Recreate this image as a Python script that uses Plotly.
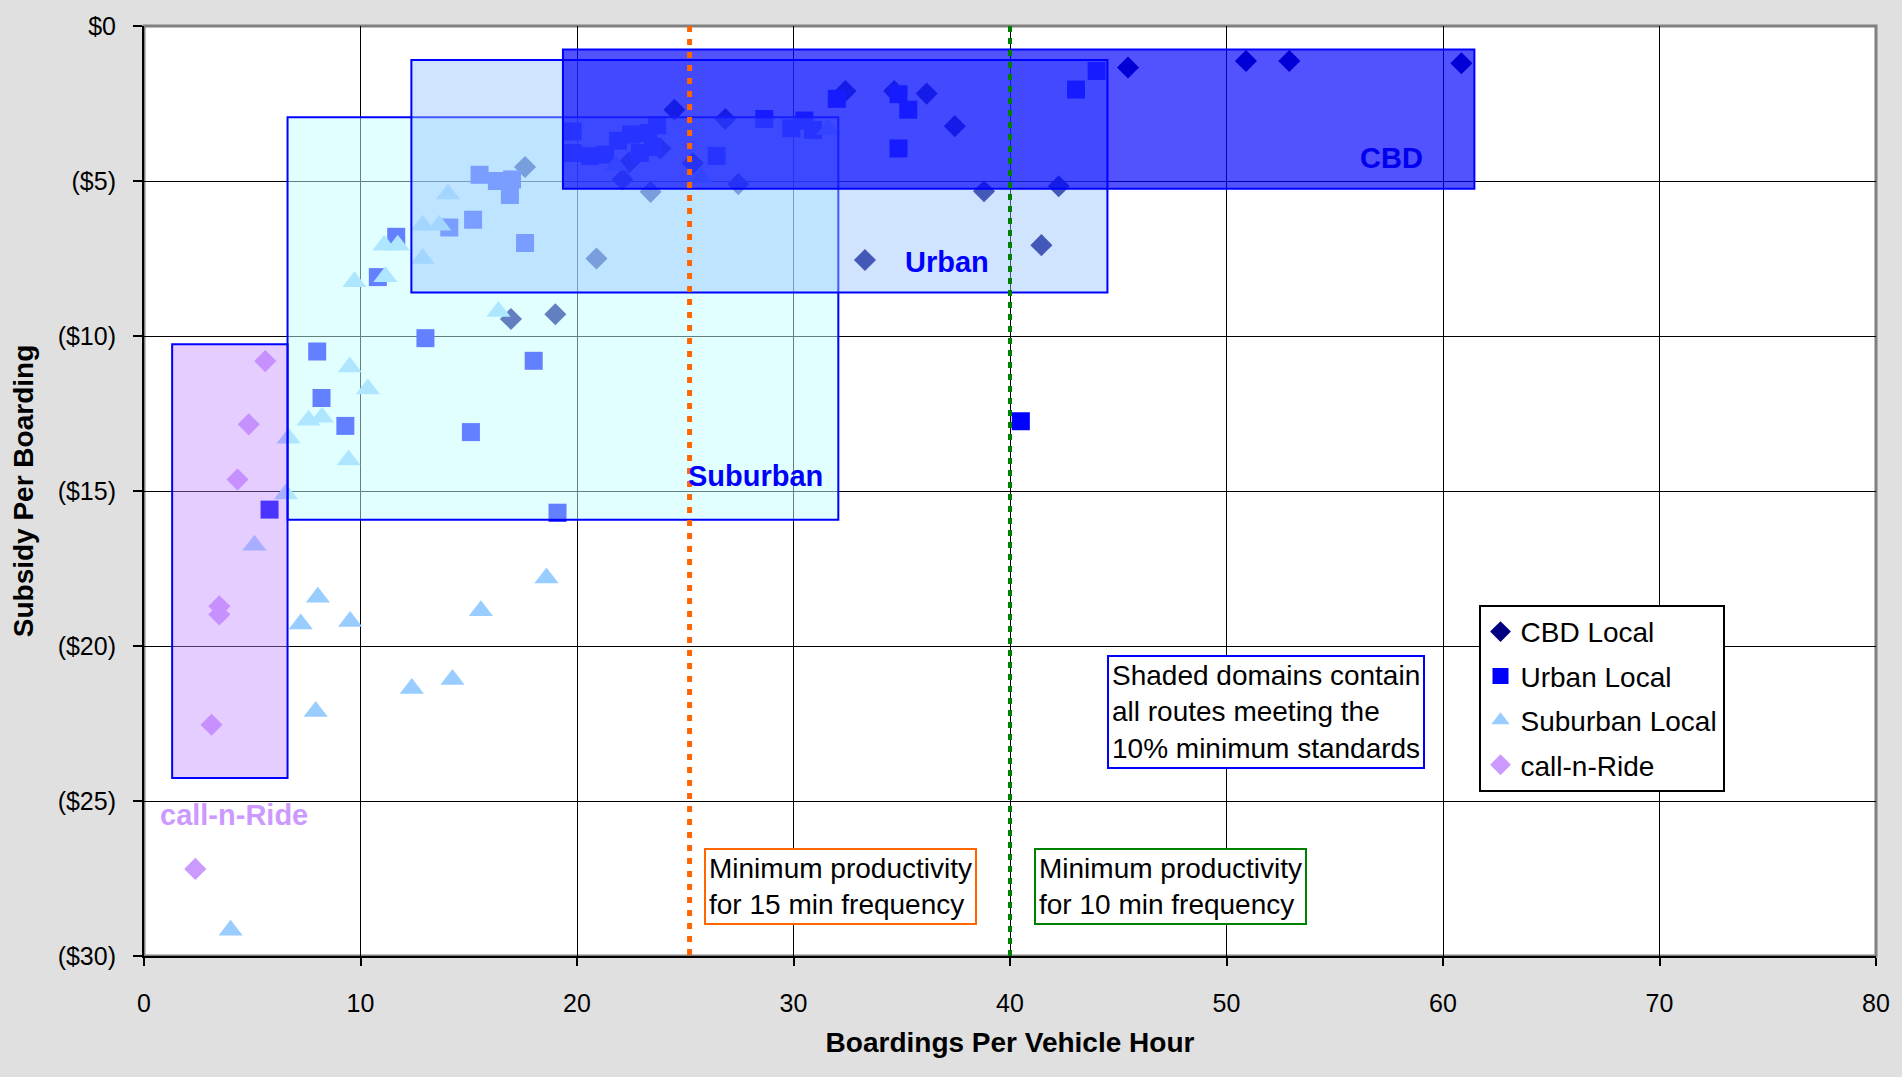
import plotly.graph_objects as go

# ---------------- data (subsidy per boarding in $, shown as negatives) ----------------
cbd_x = [17.6, 16.95, 19.0, 20.9, 22.1, 22.4, 23.4, 23.85, 24.5, 25.35, 26.85, 27.45,
         32.4, 33.3, 34.65, 36.15, 37.45, 38.8, 41.45, 42.25, 45.45, 50.9, 52.9, 60.85]
cbd_y = [4.55, 9.45, 9.3, 7.5, 4.95, 4.4, 5.35, 3.95, 2.7, 4.43, 3.0, 5.1,
         2.1, 7.55, 2.1, 2.18, 3.23, 5.33, 7.07, 5.17, 1.34, 1.13, 1.13, 1.2]

urban_x = [19.8, 19.8, 20.6, 21.3, 21.9, 22.5, 22.9, 23.3, 23.7, 23.5, 26.45, 28.65,
           29.9, 30.5, 30.9, 32.0, 34.85, 35.3, 34.85, 43.05, 44.0, 40.5,
           15.5, 16.3, 17.0, 16.9, 15.2, 14.1, 11.65, 17.6, 10.8, 13.0, 8.0,
           18.0, 8.2, 9.3, 15.1, 5.8, 19.1]
urban_y = [3.4, 4.1, 4.2, 4.15, 3.7, 3.5, 4.1, 3.45, 3.2, 3.9, 4.19, 3.0,
           3.3, 3.05, 3.35, 2.35, 2.2, 2.7, 3.95, 2.05, 1.45, 12.75,
           4.8, 5.0, 4.95, 5.45, 6.25, 6.5, 6.8, 7.0, 8.1, 10.07, 10.5,
           10.8, 12.0, 12.9, 13.1, 15.6, 15.7]

sub_x = [14.04, 12.87, 13.64, 11.1, 11.72, 12.87, 9.72, 11.15, 16.37, 21.8, 25.7, 31.6,
         9.5, 10.34, 7.6, 8.22, 6.68, 9.45, 6.56, 5.1, 8.03, 7.24, 9.52, 15.56, 18.59,
         12.37, 14.25, 7.93, 4.0]
sub_y = [5.42, 6.43, 6.43, 7.07, 7.07, 7.5, 8.25, 8.09, 9.21, 4.5, 4.89, 3.34,
         11.0, 11.71, 12.72, 12.62, 13.3, 14.0, 15.1, 16.75, 18.43, 19.29, 19.21, 18.86, 17.81,
         21.37, 21.08, 22.11, 29.17]

cnr_x = [5.6, 4.84, 4.32, 3.48, 3.48, 3.12, 2.37]
cnr_y = [10.81, 12.85, 14.63, 18.72, 18.98, 22.54, 27.19]

# shaded domains: name, x0, x1, y0 (top subsidy), y1 (bottom subsidy)
dom_names = ["Suburban", "Urban", "CBD", "call-n-Ride"]
dom_x0 = [6.63, 12.35, 19.35, 1.3]
dom_x1 = [32.07, 44.5, 61.45, 6.63]
dom_top = [2.94, 1.1, 0.76, 10.27]
dom_bot = [15.93, 8.6, 5.25, 24.26]
dom_fill = ["rgba(195,255,255,0.5)", "rgba(150,195,255,0.45)",
            "rgba(0,0,255,0.68)", "rgba(190,130,255,0.4)"]

# domain labels
lab_text = ["Suburban", "Urban", "CBD", "call-n-Ride"]
lab_x = [28.25, 37.1, 57.6, 4.16]
lab_y = [14.5, 7.6, 4.25, 25.44]
lab_col = ["#0000ff", "#0000ff", "#0000ee", "#cc99ff"]

min15_x = 25.2
min10_x = 40.0

x_ticks = [0, 10, 20, 30, 40, 50, 60, 70, 80]
y_ticks = [0, 5, 10, 15, 20, 25, 30]
y_ticktext = ["$0", "($5)", "($10)", "($15)", "($20)", "($25)", "($30)"]

FONT = "Arial, Liberation Sans, sans-serif"

def neg(v):
    return [-a for a in v]

fig = go.Figure()
fig.add_trace(go.Scatter(x=cbd_x, y=neg(cbd_y), mode="markers", name="CBD Local",
                         legendgroup="a",
                         marker=dict(symbol="diamond", size=17, color="#000080")))
fig.add_trace(go.Scatter(x=urban_x, y=neg(urban_y), mode="markers", name="Urban Local",
                         legendgroup="b",
                         marker=dict(symbol="square", size=18, color="#0000ff")))
fig.add_trace(go.Scatter(x=sub_x, y=neg(sub_y), mode="markers", name="Suburban Local",
                         legendgroup="c",
                         marker=dict(symbol="triangle-up", size=21, color="#99ccff")))
fig.add_trace(go.Scatter(x=cnr_x, y=neg(cnr_y), mode="markers", name="call-n-Ride",
                         legendgroup="d",
                         marker=dict(symbol="diamond", size=17, color="#cc99ff")))

shapes = []
# plot area border (gray) drawn beneath
shapes.append(dict(type="rect", xref="paper", yref="paper", x0=0, x1=1, y0=0, y1=1,
                   line=dict(color="#808080", width=3), fillcolor="rgba(0,0,0,0)",
                   layer="below"))
for i in range(len(dom_names)):
    shapes.append(dict(type="rect", xref="x", yref="y",
                       x0=dom_x0[i], x1=dom_x1[i], y0=-dom_top[i], y1=-dom_bot[i],
                       fillcolor=dom_fill[i], line=dict(color="#0000ff", width=2),
                       layer="above"))
shapes.append(dict(type="line", xref="x", yref="y", x0=min15_x, x1=min15_x, y0=0, y1=-30,
                   line=dict(color="#ff6600", width=5, dash="6px,7px"), layer="above"))
shapes.append(dict(type="line", xref="x", yref="y", x0=min10_x, x1=min10_x, y0=0, y1=-30,
                   line=dict(color="#008000", width=4, dash="6px,6px"), layer="above"))

annotations = []
for i in range(len(lab_text)):
    annotations.append(dict(x=lab_x[i], y=-lab_y[i], xref="x", yref="y", text="<b>%s</b>" % lab_text[i],
                            showarrow=False, font=dict(family=FONT, size=29, color=lab_col[i]),
                            xanchor="center", yanchor="middle"))

annotations.append(dict(x=44.5, y=-20.3, xref="x", yref="y", xanchor="left", yanchor="top",
                        text="Shaded domains contain<br>all routes meeting the<br>10% minimum standards",
                        align="left", showarrow=False, bgcolor="white",
                        bordercolor="#0000ff", borderwidth=2, borderpad=3,
                        font=dict(family=FONT, size=28, color="black")))
annotations.append(dict(x=25.85, y=-26.5, xref="x", yref="y", xanchor="left", yanchor="top",
                        text="Minimum productivity<br>for 15 min frequency",
                        align="left", showarrow=False, bgcolor="white",
                        bordercolor="#ff6600", borderwidth=2, borderpad=3,
                        font=dict(family=FONT, size=28, color="black")))
annotations.append(dict(x=41.1, y=-26.5, xref="x", yref="y", xanchor="left", yanchor="top",
                        text="Minimum productivity<br>for 10 min frequency",
                        align="left", showarrow=False, bgcolor="white",
                        bordercolor="#008000", borderwidth=2, borderpad=3,
                        font=dict(family=FONT, size=28, color="black")))

fig.update_layout(
    width=1902, height=1077,
    margin=dict(l=144, r=22, t=19, b=121),
    paper_bgcolor="#e0e0e0",
    plot_bgcolor="white",
    font=dict(family=FONT, size=25, color="black"),
    shapes=shapes,
    annotations=annotations,
    legend=dict(x=0.7705, y=0.3776, xanchor="left", yanchor="top",
                bgcolor="white", bordercolor="black", borderwidth=2,
                font=dict(family=FONT, size=28, color="black"),
                tracegroupgap=5, itemwidth=30),
    xaxis=dict(range=[0, 80], tickvals=x_ticks, showgrid=True, gridcolor="black", gridwidth=1.3,
               zeroline=False, showline=True, linecolor="black", linewidth=2,
               ticks="outside", ticklen=8, tickcolor="black", tickwidth=2,
               ticklabelstandoff=16,
               title=dict(text="<b>Boardings Per Vehicle Hour</b>", standoff=16,
                          font=dict(family=FONT, size=28))),
    yaxis=dict(range=[-30, 0], tickvals=neg(y_ticks), ticktext=y_ticktext,
               showgrid=True, gridcolor="black", gridwidth=1.3,
               zeroline=False, showline=True, linecolor="black", linewidth=2,
               ticks="outside", ticklen=9, tickcolor="black", tickwidth=2,
               ticklabelstandoff=12,
               title=dict(text="<b>Subsidy Per Boarding</b>", standoff=16,
                          font=dict(family=FONT, size=28))),
)

fig.write_html("out.html", config={"displayModeBar": False},
               post_script="document.body.style.margin='0';document.body.style.overflow='hidden';")
